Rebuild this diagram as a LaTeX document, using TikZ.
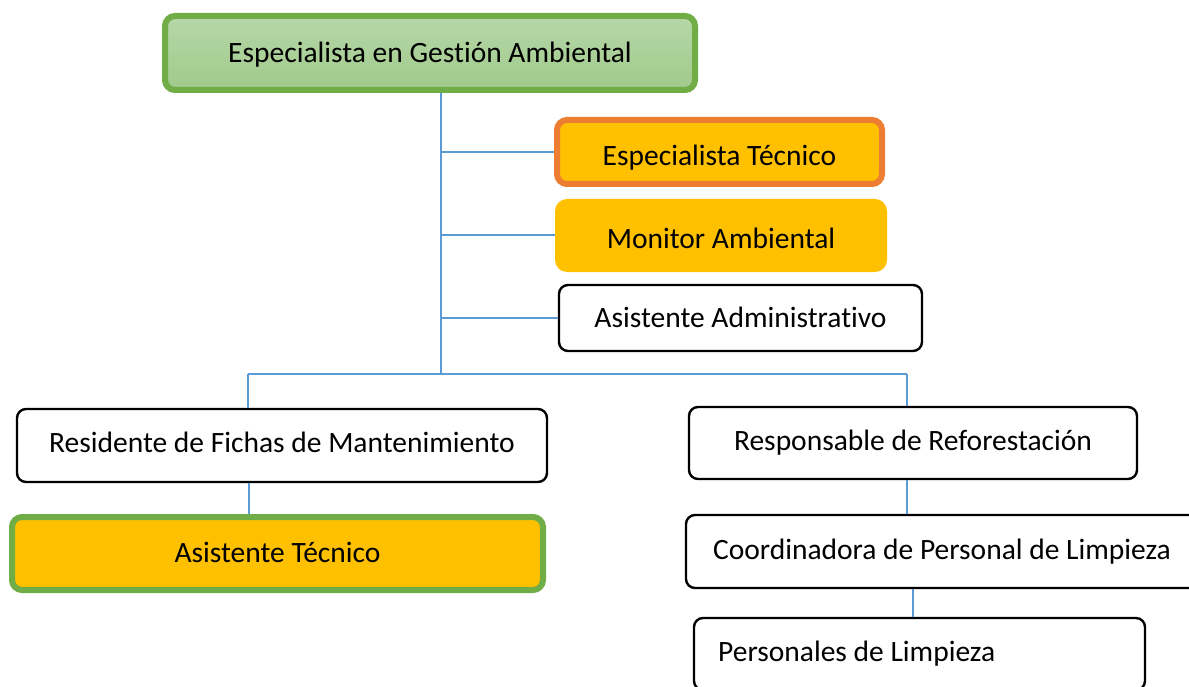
\documentclass[tikz,border=0pt]{standalone}
\usepackage{fontspec}
\setmainfont[Ligatures={NoCommon}]{Carlito}
\definecolor{linkblue}{HTML}{5B9BD5}
\definecolor{boxgreen}{HTML}{70AD47}
\definecolor{boxorange}{HTML}{ED7D31}
\definecolor{boxgold}{HTML}{FFC000}
\definecolor{greentop}{HTML}{B6D7A8}
\definecolor{greenbot}{HTML}{A0CA8B}
\begin{document}
\begin{tikzpicture}[x=1pt,y=-1pt,
  every node/.style={font=\fontsize{29.5}{34}\selectfont, inner sep=0pt, text height=25pt, text depth=6pt},
  box/.style={rectangle, rounded corners=9pt, draw=black, line width=2.4pt, fill=white},
  greenbox/.style={rectangle, rounded corners=10pt, draw=boxgreen, line width=6pt},
  orangebox/.style={rectangle, rounded corners=10pt, draw=boxorange, line width=6pt, fill=boxgold},
  goldbox/.style={rectangle, rounded corners=12pt, fill=boxgold},
  link/.style={draw=linkblue, line width=2pt}]
\useasboundingbox (0,0) rectangle (1189,687);
\begin{scope}
\clip (0,0) rectangle (1189,687);
\node[greenbox, top color=greentop, bottom color=greenbot, minimum width=530pt, minimum height=74pt] (top) at (430,53) {Especialista en Gestión Ambiental};
\node[orangebox, minimum width=325pt, minimum height=64pt, text height=33pt] (esp) at (719.5,152) {Especialista Técnico};
\node[goldbox, minimum width=332pt, minimum height=73pt, text height=31pt] (mon) at (721,235.5) {Monitor Ambiental};
\node[box, minimum width=363pt, minimum height=66pt] (adm) at (740.5,318) {Asistente Administrativo};
\node[box, minimum width=530pt, minimum height=73pt, text height=19pt] (res) at (282,445.5) {Residente de Fichas de Mantenimiento};
\node[greenbox, fill=boxgold, minimum width=531pt, minimum height=73pt, text height=23pt] (ast) at (277.5,553.5) {Asistente Técnico};
\node[box, minimum width=448pt, minimum height=72pt, text height=20pt] (ref) at (913,443) {Responsable de Reforestación};
\node[box, minimum width=512pt, minimum height=73pt, text height=21pt] (coo) at (942,551.5) {Coordinadora de Personal de Limpieza};
\node[box, minimum width=451pt, minimum height=72pt] (per) at (919.5,654) {};
\node[anchor=base west] (pertext) at (718,661) {Personales de Limpieza};
\end{scope}
\coordinate (j1) at (441,374);
\coordinate (jl) at (248,374);
\coordinate (jr) at (907,374);
\draw[link] (top.south -| j1) -- (j1);
\draw[link] (esp.west -| j1) -- (esp.west);
\draw[link] (mon.west -| j1) -- (mon.west);
\draw[link] (adm.west -| j1) -- (adm.west);
\draw[link] (jl) -- (jr);
\draw[link] (jl) -- (res.north -| jl);
\draw[link] (jr) -- (ref.north -| jr);
\coordinate (ja) at (249,0);
\draw[link] (res.south -| ja) -- (ast.north -| ja);
\draw[link] (ref.south -| jr) -- (coo.north -| jr);
\coordinate (jp) at (913,0);
\draw[link] (coo.south -| jp) -- (per.north -| jp);
\end{tikzpicture}
\end{document}
